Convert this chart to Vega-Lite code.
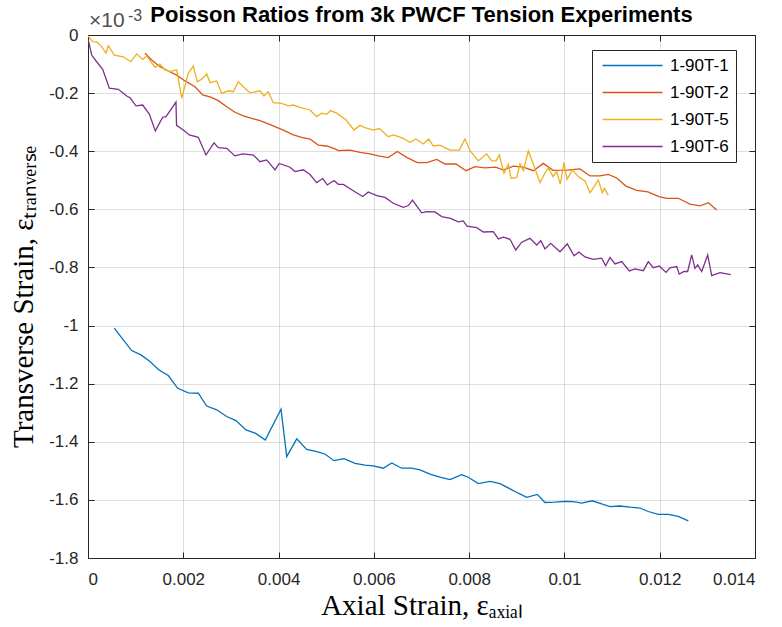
{
  "$schema": "https://vega.github.io/schema/vega-lite/v6.json",
  "width": 667,
  "height": 523,
  "autosize": {"type": "none"},
  "padding": {"left": 88, "top": 35, "right": 27, "bottom": 69},
  "background": "white",
  "title": {"text": "Poisson Ratios from 3k PWCF Tension Experiments", "font": "Liberation Sans", "fontSize": 22, "fontWeight": "bold", "color": "black", "anchor": "middle", "offset": -19},
  "config": {
    "view": {"stroke": null},
    "axis": {"domainColor": "#262626", "tickColor": "#262626", "tickSize": -6, "gridColor": "#262626", "gridOpacity": 0.15, "labelFont": "Liberation Sans", "labelFontSize": 17, "labelColor": "#262626", "titleFont": "Liberation Serif", "titleFontSize": 29, "titleFontWeight": "normal", "titleColor": "black"},
    "legend": {"strokeColor": "#262626", "fillColor": "white", "padding": 7, "symbolType": "M-5,0H5", "symbolSize": 144, "symbolStrokeWidth": 1.3, "symbolOffset": 25, "labelOffset": 29, "labelFont": "Liberation Sans", "labelFontSize": 17, "labelColor": "black", "rowPadding": 9}
  },
  "datasets": {
    "curves": [
      {"s":"1-90T-1","x":0.000552,"y":-0.001009},{"s":"1-90T-1","x":0.000728,"y":-0.001047},{"s":"1-90T-1","x":0.000917,"y":-0.001086},{"s":"1-90T-1","x":0.001112,"y":-0.001101},{"s":"1-90T-1","x":0.001301,"y":-0.001124},{"s":"1-90T-1","x":0.00149,"y":-0.001153},{"s":"1-90T-1","x":0.001685,"y":-0.001172},{"s":"1-90T-1","x":0.001883,"y":-0.001216},{"s":"1-90T-1","x":0.002105,"y":-0.001232},{"s":"1-90T-1","x":0.002315,"y":-0.001233},{"s":"1-90T-1","x":0.002491,"y":-0.001277},{"s":"1-90T-1","x":0.002701,"y":-0.00129},{"s":"1-90T-1","x":0.002911,"y":-0.001313},{"s":"1-90T-1","x":0.003106,"y":-0.001327},{"s":"1-90T-1","x":0.003316,"y":-0.001359},{"s":"1-90T-1","x":0.00352,"y":-0.001371},{"s":"1-90T-1","x":0.003721,"y":-0.001394},{"s":"1-90T-1","x":0.004051,"y":-0.001288},{"s":"1-90T-1","x":0.004171,"y":-0.001451},{"s":"1-90T-1","x":0.004381,"y":-0.00139},{"s":"1-90T-1","x":0.00459,"y":-0.001426},{"s":"1-90T-1","x":0.0048,"y":-0.001434},{"s":"1-90T-1","x":0.004974,"y":-0.001442},{"s":"1-90T-1","x":0.005163,"y":-0.001465},{"s":"1-90T-1","x":0.005373,"y":-0.001458},{"s":"1-90T-1","x":0.005604,"y":-0.001474},{"s":"1-90T-1","x":0.005814,"y":-0.00148},{"s":"1-90T-1","x":0.005988,"y":-0.001483},{"s":"1-90T-1","x":0.006198,"y":-0.001491},{"s":"1-90T-1","x":0.006374,"y":-0.001473},{"s":"1-90T-1","x":0.006584,"y":-0.001491},{"s":"1-90T-1","x":0.006794,"y":-0.001491},{"s":"1-90T-1","x":0.006968,"y":-0.001497},{"s":"1-90T-1","x":0.007178,"y":-0.001511},{"s":"1-90T-1","x":0.007388,"y":-0.001522},{"s":"1-90T-1","x":0.007598,"y":-0.00153},{"s":"1-90T-1","x":0.007844,"y":-0.001513},{"s":"1-90T-1","x":0.007982,"y":-0.001522},{"s":"1-90T-1","x":0.008192,"y":-0.001544},{"s":"1-90T-1","x":0.008438,"y":-0.001536},{"s":"1-90T-1","x":0.008648,"y":-0.001544},{"s":"1-90T-1","x":0.008858,"y":-0.001562},{"s":"1-90T-1","x":0.009032,"y":-0.001577},{"s":"1-90T-1","x":0.009208,"y":-0.001591},{"s":"1-90T-1","x":0.009431,"y":-0.001581},{"s":"1-90T-1","x":0.009592,"y":-0.001609},{"s":"1-90T-1","x":0.009802,"y":-0.001608},{"s":"1-90T-1","x":0.010012,"y":-0.001605},{"s":"1-90T-1","x":0.010186,"y":-0.001606},{"s":"1-90T-1","x":0.010362,"y":-0.001611},{"s":"1-90T-1","x":0.010585,"y":-0.001603},{"s":"1-90T-1","x":0.010782,"y":-0.001614},{"s":"1-90T-1","x":0.010957,"y":-0.001623},{"s":"1-90T-1","x":0.011166,"y":-0.001621},{"s":"1-90T-1","x":0.011376,"y":-0.001625},{"s":"1-90T-1","x":0.011586,"y":-0.001628},{"s":"1-90T-1","x":0.01176,"y":-0.00164},{"s":"1-90T-1","x":0.01197,"y":-0.00165},{"s":"1-90T-1","x":0.01218,"y":-0.00165},{"s":"1-90T-1","x":0.01239,"y":-0.001657},{"s":"1-90T-1","x":0.0126,"y":-0.001672},
      {"s":"1-90T-2","x":0.001196,"y":-0.000063},{"s":"1-90T-2","x":0.001337,"y":-0.000086},{"s":"1-90T-2","x":0.001511,"y":-0.000109},{"s":"1-90T-2","x":0.001685,"y":-0.000124},{"s":"1-90T-2","x":0.001862,"y":-0.000138},{"s":"1-90T-2","x":0.002036,"y":-0.000158},{"s":"1-90T-2","x":0.002246,"y":-0.000178},{"s":"1-90T-2","x":0.002407,"y":-0.000206},{"s":"1-90T-2","x":0.002575,"y":-0.000214},{"s":"1-90T-2","x":0.002735,"y":-0.000226},{"s":"1-90T-2","x":0.002911,"y":-0.000247},{"s":"1-90T-2","x":0.003085,"y":-0.000266},{"s":"1-90T-2","x":0.00326,"y":-0.000278},{"s":"1-90T-2","x":0.003436,"y":-0.000287},{"s":"1-90T-2","x":0.00361,"y":-0.000295},{"s":"1-90T-2","x":0.003784,"y":-0.000306},{"s":"1-90T-2","x":0.003961,"y":-0.000318},{"s":"1-90T-2","x":0.004135,"y":-0.00033},{"s":"1-90T-2","x":0.004309,"y":-0.000344},{"s":"1-90T-2","x":0.004485,"y":-0.000352},{"s":"1-90T-2","x":0.00466,"y":-0.000358},{"s":"1-90T-2","x":0.004834,"y":-0.000379},{"s":"1-90T-2","x":0.00501,"y":-0.000382},{"s":"1-90T-2","x":0.005184,"y":-0.000392},{"s":"1-90T-2","x":0.005254,"y":-0.000398},{"s":"1-90T-2","x":0.005499,"y":-0.000396},{"s":"1-90T-2","x":0.005709,"y":-0.000404},{"s":"1-90T-2","x":0.005919,"y":-0.000409},{"s":"1-90T-2","x":0.006093,"y":-0.000416},{"s":"1-90T-2","x":0.006303,"y":-0.000422},{"s":"1-90T-2","x":0.006492,"y":-0.000401},{"s":"1-90T-2","x":0.006689,"y":-0.000421},{"s":"1-90T-2","x":0.006912,"y":-0.000439},{"s":"1-90T-2","x":0.007109,"y":-0.000439},{"s":"1-90T-2","x":0.007319,"y":-0.000428},{"s":"1-90T-2","x":0.007493,"y":-0.000444},{"s":"1-90T-2","x":0.007724,"y":-0.000444},{"s":"1-90T-2","x":0.007934,"y":-0.000467},{"s":"1-90T-2","x":0.008123,"y":-0.000453},{"s":"1-90T-2","x":0.008333,"y":-0.000457},{"s":"1-90T-2","x":0.008557,"y":-0.000455},{"s":"1-90T-2","x":0.008717,"y":-0.000465},{"s":"1-90T-2","x":0.008927,"y":-0.000451},{"s":"1-90T-2","x":0.009137,"y":-0.000455},{"s":"1-90T-2","x":0.009347,"y":-0.000467},{"s":"1-90T-2","x":0.009557,"y":-0.000442},{"s":"1-90T-2","x":0.009761,"y":-0.000466},{"s":"1-90T-2","x":0.010048,"y":-0.000465},{"s":"1-90T-2","x":0.010327,"y":-0.000461},{"s":"1-90T-2","x":0.010537,"y":-0.000485},{"s":"1-90T-2","x":0.010747,"y":-0.000485},{"s":"1-90T-2","x":0.010921,"y":-0.00048},{"s":"1-90T-2","x":0.011097,"y":-0.000492},{"s":"1-90T-2","x":0.011292,"y":-0.00052},{"s":"1-90T-2","x":0.011517,"y":-0.000535},{"s":"1-90T-2","x":0.011754,"y":-0.00054},{"s":"1-90T-2","x":0.011985,"y":-0.000556},{"s":"1-90T-2","x":0.012147,"y":-0.000562},{"s":"1-90T-2","x":0.01239,"y":-0.000562},{"s":"1-90T-2","x":0.012636,"y":-0.000582},{"s":"1-90T-2","x":0.012846,"y":-0.000588},{"s":"1-90T-2","x":0.01302,"y":-0.000577},{"s":"1-90T-2","x":0.013196,"y":-0.000602},
      {"s":"1-90T-5","x":0.0,"y":-0.000003},{"s":"1-90T-5","x":0.000099,"y":-0.000023},{"s":"1-90T-5","x":0.000183,"y":-0.000024},{"s":"1-90T-5","x":0.000288,"y":-0.00004},{"s":"1-90T-5","x":0.000378,"y":-0.000063},{"s":"1-90T-5","x":0.000426,"y":-0.000037},{"s":"1-90T-5","x":0.000552,"y":-0.000069},{"s":"1-90T-5","x":0.000741,"y":-0.000075},{"s":"1-90T-5","x":0.000896,"y":-0.000092},{"s":"1-90T-5","x":0.001022,"y":-0.000065},{"s":"1-90T-5","x":0.001148,"y":-0.000084},{"s":"1-90T-5","x":0.001232,"y":-0.000072},{"s":"1-90T-5","x":0.001406,"y":-0.000111},{"s":"1-90T-5","x":0.001511,"y":-0.0001},{"s":"1-90T-5","x":0.001616,"y":-0.00012},{"s":"1-90T-5","x":0.001721,"y":-0.000126},{"s":"1-90T-5","x":0.001862,"y":-0.00012},{"s":"1-90T-5","x":0.001967,"y":-0.000218},{"s":"1-90T-5","x":0.002105,"y":-0.000132},{"s":"1-90T-5","x":0.00221,"y":-0.000107},{"s":"1-90T-5","x":0.002294,"y":-0.000161},{"s":"1-90T-5","x":0.002386,"y":-0.000152},{"s":"1-90T-5","x":0.002491,"y":-0.000134},{"s":"1-90T-5","x":0.002561,"y":-0.000164},{"s":"1-90T-5","x":0.002701,"y":-0.000158},{"s":"1-90T-5","x":0.002806,"y":-0.000201},{"s":"1-90T-5","x":0.002945,"y":-0.000192},{"s":"1-90T-5","x":0.00305,"y":-0.000195},{"s":"1-90T-5","x":0.003155,"y":-0.000161},{"s":"1-90T-5","x":0.00326,"y":-0.000178},{"s":"1-90T-5","x":0.0034,"y":-0.000199},{"s":"1-90T-5","x":0.00361,"y":-0.000192},{"s":"1-90T-5","x":0.003694,"y":-0.00021},{"s":"1-90T-5","x":0.003784,"y":-0.000195},{"s":"1-90T-5","x":0.003889,"y":-0.000233},{"s":"1-90T-5","x":0.004066,"y":-0.000235},{"s":"1-90T-5","x":0.004204,"y":-0.000244},{"s":"1-90T-5","x":0.004309,"y":-0.000241},{"s":"1-90T-5","x":0.00445,"y":-0.000249},{"s":"1-90T-5","x":0.00466,"y":-0.000258},{"s":"1-90T-5","x":0.0048,"y":-0.000281},{"s":"1-90T-5","x":0.004905,"y":-0.000269},{"s":"1-90T-5","x":0.00501,"y":-0.000273},{"s":"1-90T-5","x":0.005094,"y":-0.00026},{"s":"1-90T-5","x":0.00522,"y":-0.000269},{"s":"1-90T-5","x":0.005415,"y":-0.000292},{"s":"1-90T-5","x":0.005583,"y":-0.000327},{"s":"1-90T-5","x":0.005709,"y":-0.000311},{"s":"1-90T-5","x":0.005814,"y":-0.000319},{"s":"1-90T-5","x":0.005988,"y":-0.000327},{"s":"1-90T-5","x":0.006114,"y":-0.000322},{"s":"1-90T-5","x":0.006303,"y":-0.00035},{"s":"1-90T-5","x":0.006408,"y":-0.000344},{"s":"1-90T-5","x":0.006605,"y":-0.000355},{"s":"1-90T-5","x":0.006759,"y":-0.000369},{"s":"1-90T-5","x":0.006884,"y":-0.000358},{"s":"1-90T-5","x":0.007038,"y":-0.000375},{"s":"1-90T-5","x":0.007151,"y":-0.000358},{"s":"1-90T-5","x":0.007248,"y":-0.000382},{"s":"1-90T-5","x":0.007388,"y":-0.000379},{"s":"1-90T-5","x":0.007598,"y":-0.000396},{"s":"1-90T-5","x":0.007793,"y":-0.000396},{"s":"1-90T-5","x":0.007913,"y":-0.000358},{"s":"1-90T-5","x":0.008018,"y":-0.000398},{"s":"1-90T-5","x":0.008192,"y":-0.000433},{"s":"1-90T-5","x":0.008368,"y":-0.000409},{"s":"1-90T-5","x":0.008473,"y":-0.000433},{"s":"1-90T-5","x":0.008564,"y":-0.000433},{"s":"1-90T-5","x":0.008633,"y":-0.000413},{"s":"1-90T-5","x":0.008732,"y":-0.000476},{"s":"1-90T-5","x":0.008822,"y":-0.000444},{"s":"1-90T-5","x":0.008879,"y":-0.000493},{"s":"1-90T-5","x":0.008998,"y":-0.000491},{"s":"1-90T-5","x":0.009068,"y":-0.000444},{"s":"1-90T-5","x":0.009137,"y":-0.000467},{"s":"1-90T-5","x":0.009242,"y":-0.000399},{"s":"1-90T-5","x":0.009347,"y":-0.000444},{"s":"1-90T-5","x":0.009487,"y":-0.000508},{"s":"1-90T-5","x":0.009592,"y":-0.000475},{"s":"1-90T-5","x":0.009666,"y":-0.000458},{"s":"1-90T-5","x":0.00976,"y":-0.000487},{"s":"1-90T-5","x":0.009838,"y":-0.00047},{"s":"1-90T-5","x":0.009913,"y":-0.000513},{"s":"1-90T-5","x":0.009991,"y":-0.000439},{"s":"1-90T-5","x":0.010054,"y":-0.000497},{"s":"1-90T-5","x":0.010165,"y":-0.000465},{"s":"1-90T-5","x":0.010312,"y":-0.00049},{"s":"1-90T-5","x":0.010432,"y":-0.000502},{"s":"1-90T-5","x":0.010537,"y":-0.000543},{"s":"1-90T-5","x":0.010711,"y":-0.000499},{"s":"1-90T-5","x":0.010795,"y":-0.000543},{"s":"1-90T-5","x":0.010837,"y":-0.000528},{"s":"1-90T-5","x":0.010921,"y":-0.000551},
      {"s":"1-90T-6","x":0.000006,"y":-0.000017},{"s":"1-90T-6","x":0.000078,"y":-0.000069},{"s":"1-90T-6","x":0.000182,"y":-0.000092},{"s":"1-90T-6","x":0.000309,"y":-0.000118},{"s":"1-90T-6","x":0.000447,"y":-0.000183},{"s":"1-90T-6","x":0.000636,"y":-0.000187},{"s":"1-90T-6","x":0.000812,"y":-0.00021},{"s":"1-90T-6","x":0.000882,"y":-0.000216},{"s":"1-90T-6","x":0.001007,"y":-0.000244},{"s":"1-90T-6","x":0.001148,"y":-0.000241},{"s":"1-90T-6","x":0.001287,"y":-0.000272},{"s":"1-90T-6","x":0.001413,"y":-0.00033},{"s":"1-90T-6","x":0.001568,"y":-0.000283},{"s":"1-90T-6","x":0.001637,"y":-0.000281},{"s":"1-90T-6","x":0.001847,"y":-0.000231},{"s":"1-90T-6","x":0.001858,"y":-0.000311},{"s":"1-90T-6","x":0.002,"y":-0.000327},{"s":"1-90T-6","x":0.002126,"y":-0.000344},{"s":"1-90T-6","x":0.002315,"y":-0.000352},{"s":"1-90T-6","x":0.002477,"y":-0.000413},{"s":"1-90T-6","x":0.002645,"y":-0.000371},{"s":"1-90T-6","x":0.002735,"y":-0.000388},{"s":"1-90T-6","x":0.002911,"y":-0.00039},{"s":"1-90T-6","x":0.003085,"y":-0.000416},{"s":"1-90T-6","x":0.003247,"y":-0.000409},{"s":"1-90T-6","x":0.00347,"y":-0.000413},{"s":"1-90T-6","x":0.00361,"y":-0.000436},{"s":"1-90T-6","x":0.003751,"y":-0.00043},{"s":"1-90T-6","x":0.003925,"y":-0.000464},{"s":"1-90T-6","x":0.004015,"y":-0.000442},{"s":"1-90T-6","x":0.00424,"y":-0.000455},{"s":"1-90T-6","x":0.004345,"y":-0.00047},{"s":"1-90T-6","x":0.004519,"y":-0.000464},{"s":"1-90T-6","x":0.00466,"y":-0.00048},{"s":"1-90T-6","x":0.0048,"y":-0.000508},{"s":"1-90T-6","x":0.004926,"y":-0.000494},{"s":"1-90T-6","x":0.005023,"y":-0.000516},{"s":"1-90T-6","x":0.005163,"y":-0.000501},{"s":"1-90T-6","x":0.005254,"y":-0.000514},{"s":"1-90T-6","x":0.005359,"y":-0.000514},{"s":"1-90T-6","x":0.005568,"y":-0.000536},{"s":"1-90T-6","x":0.005766,"y":-0.000556},{"s":"1-90T-6","x":0.005883,"y":-0.00054},{"s":"1-90T-6","x":0.00606,"y":-0.000553},{"s":"1-90T-6","x":0.006234,"y":-0.000559},{"s":"1-90T-6","x":0.006408,"y":-0.000579},{"s":"1-90T-6","x":0.006618,"y":-0.000593},{"s":"1-90T-6","x":0.006723,"y":-0.000587},{"s":"1-90T-6","x":0.006811,"y":-0.000568},{"s":"1-90T-6","x":0.007004,"y":-0.000612},{"s":"1-90T-6","x":0.007109,"y":-0.000608},{"s":"1-90T-6","x":0.007283,"y":-0.000609},{"s":"1-90T-6","x":0.007424,"y":-0.000625},{"s":"1-90T-6","x":0.007609,"y":-0.000631},{"s":"1-90T-6","x":0.007772,"y":-0.000643},{"s":"1-90T-6","x":0.007877,"y":-0.00064},{"s":"1-90T-6","x":0.007955,"y":-0.000658},{"s":"1-90T-6","x":0.008159,"y":-0.000663},{"s":"1-90T-6","x":0.008297,"y":-0.000678},{"s":"1-90T-6","x":0.008507,"y":-0.000677},{"s":"1-90T-6","x":0.008612,"y":-0.000702},{"s":"1-90T-6","x":0.008717,"y":-0.000696},{"s":"1-90T-6","x":0.008858,"y":-0.000703},{"s":"1-90T-6","x":0.008977,"y":-0.00074},{"s":"1-90T-6","x":0.009103,"y":-0.000713},{"s":"1-90T-6","x":0.009277,"y":-0.0007},{"s":"1-90T-6","x":0.009418,"y":-0.000723},{"s":"1-90T-6","x":0.009502,"y":-0.000708},{"s":"1-90T-6","x":0.009592,"y":-0.000736},{"s":"1-90T-6","x":0.009712,"y":-0.000717},{"s":"1-90T-6","x":0.009907,"y":-0.000746},{"s":"1-90T-6","x":0.01006,"y":-0.000719},{"s":"1-90T-6","x":0.010201,"y":-0.00076},{"s":"1-90T-6","x":0.010302,"y":-0.000747},{"s":"1-90T-6","x":0.010432,"y":-0.000764},{"s":"1-90T-6","x":0.010606,"y":-0.000772},{"s":"1-90T-6","x":0.010782,"y":-0.000768},{"s":"1-90T-6","x":0.010866,"y":-0.000794},{"s":"1-90T-6","x":0.010957,"y":-0.000766},{"s":"1-90T-6","x":0.011061,"y":-0.000788},{"s":"1-90T-6","x":0.011202,"y":-0.00078},{"s":"1-90T-6","x":0.011362,"y":-0.000812},{"s":"1-90T-6","x":0.011481,"y":-0.000805},{"s":"1-90T-6","x":0.011656,"y":-0.000811},{"s":"1-90T-6","x":0.01176,"y":-0.00078},{"s":"1-90T-6","x":0.011865,"y":-0.000801},{"s":"1-90T-6","x":0.011991,"y":-0.000795},{"s":"1-90T-6","x":0.012132,"y":-0.000817},{"s":"1-90T-6","x":0.012216,"y":-0.000801},{"s":"1-90T-6","x":0.012357,"y":-0.000797},{"s":"1-90T-6","x":0.012411,"y":-0.000823},{"s":"1-90T-6","x":0.01251,"y":-0.000814},{"s":"1-90T-6","x":0.012587,"y":-0.000814},{"s":"1-90T-6","x":0.012671,"y":-0.000757},{"s":"1-90T-6","x":0.012741,"y":-0.000803},{"s":"1-90T-6","x":0.012797,"y":-0.000791},{"s":"1-90T-6","x":0.012881,"y":-0.000814},{"s":"1-90T-6","x":0.013007,"y":-0.000757},{"s":"1-90T-6","x":0.013091,"y":-0.000828},{"s":"1-90T-6","x":0.013265,"y":-0.000818},{"s":"1-90T-6","x":0.01349,"y":-0.000825}
    ]
  },
  "layer": [
    {
      "data": {"name": "curves"},
      "mark": {"type": "line", "strokeWidth": 1.3, "clip": true},
      "encoding": {
        "x": {"field": "x", "type": "quantitative", "scale": {"domain": [0, 0.014], "nice": false, "zero": false},
              "axis": {"orient": "bottom", "values": [0, 0.002, 0.004, 0.006, 0.008, 0.01, 0.012, 0.014], "labelExpr": "format(datum.value, '~g')", "labelPadding": 19, "grid": true, "title": "Axial Strain, εₐₓᵢₐₗ", "titlePadding": 4}},
        "y": {"field": "y", "type": "quantitative", "scale": {"domain": [-0.0018, 0], "nice": false, "zero": false},
              "axis": {"orient": "left", "values": [-0.0018, -0.0016, -0.0014, -0.0012, -0.001, -0.0008, -0.0006, -0.0004, -0.0002, 0], "labelExpr": "replace(format(datum.value * 1000, '~g'), '−', '-')", "labelPadding": 16, "grid": true, "title": "Transverse Strain, εₜᵣₐₙᵥₑᵣₛₑ", "titlePadding": 10}},
        "color": {"field": "s", "type": "nominal", "title": null,
                  "scale": {"domain": ["1-90T-1", "1-90T-2", "1-90T-5", "1-90T-6"], "range": ["#0072BD", "#D95319", "#EDB120", "#7E2F8E"]},
                  "legend": {"orient": "none", "legendX": 504, "legendY": 15}}
      }
    },
    {
      "data": {"name": "curves"},
      "mark": {"type": "line", "strokeOpacity": 0},
      "encoding": {
        "x": {"field": "x", "type": "quantitative", "axis": {"orient": "top", "values": [0, 0.002, 0.004, 0.006, 0.008, 0.01, 0.012, 0.014], "labels": false, "grid": false, "title": null}},
        "y": {"field": "y", "type": "quantitative", "axis": {"orient": "right", "values": [-0.0018, -0.0016, -0.0014, -0.0012, -0.001, -0.0008, -0.0006, -0.0004, -0.0002, 0], "labels": false, "grid": false, "title": null}}
      }
    },
    {
      "data": {"values": [{"label": "×10"}]},
      "mark": {"type": "text", "align": "left", "baseline": "alphabetic", "dx": 1, "dy": -8, "font": "Liberation Sans", "fontSize": 21, "color": "#505050"},
      "encoding": {"x": {"datum": 0, "type": "quantitative", "axis": null}, "y": {"datum": 0, "type": "quantitative", "axis": null}, "text": {"field": "label"}}
    },
    {
      "data": {"values": [{"label": "-3"}]},
      "mark": {"type": "text", "align": "left", "baseline": "alphabetic", "dx": 40, "dy": -14, "font": "Liberation Sans", "fontSize": 16, "color": "#505050"},
      "encoding": {"x": {"datum": 0, "type": "quantitative", "axis": null}, "y": {"datum": 0, "type": "quantitative", "axis": null}, "text": {"field": "label"}}
    }
  ],
  "resolve": {"axis": {"x": "independent", "y": "independent"}}
}
